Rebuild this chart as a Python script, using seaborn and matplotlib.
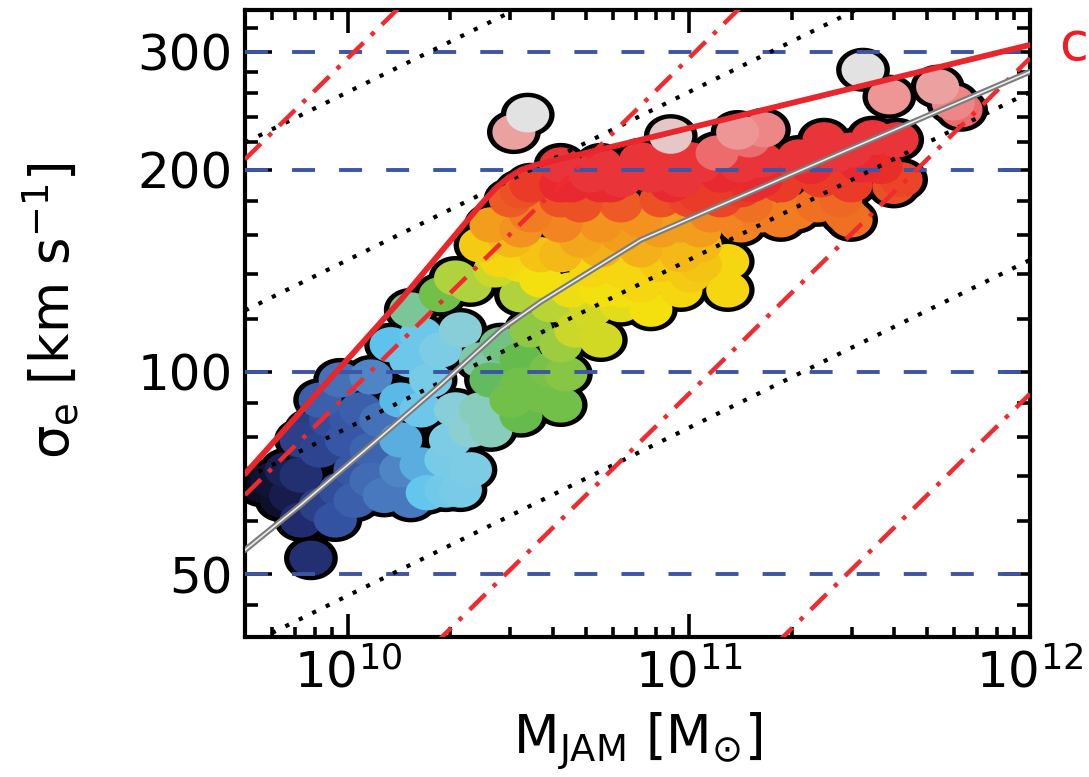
import numpy as np
import pandas as pd
import matplotlib
matplotlib.use("Agg")
import matplotlib.pyplot as plt
from matplotlib.path import Path
from matplotlib.colors import LinearSegmentedColormap
from matplotlib.ticker import FixedLocator, NullFormatter
import seaborn as sns

# ---------------------------------------------------------------------------
# Galaxies: JAM mass [1e10 Msun], effective velocity dispersion [km/s] and
# the smoothed colour index (0 = lowest, 1 = highest) used for the fill.
# ---------------------------------------------------------------------------
mass_1e10 = [
    # dark / navy
    0.56, 0.60, 0.64, 0.66, 0.68, 0.73, 0.78, 0.73, 0.83,
    # blue
    0.92, 0.95, 0.83, 0.89, 0.99, 1.09, 1.05, 1.17, 0.78, 0.95, 1.17, 1.25, 1.28, 1.43, 1.53,
    0.73, 0.83, 1.02, 1.05, 1.17,
    # light blue
    1.71, 1.43, 1.64, 1.43, 1.75, 1.53, 1.34, 1.87, 1.94, 2.14, 2.29, 2.45, 2.07, 1.64, 2.14,
    2.00, 2.29, 1.64, 1.94,
    # green
    2.63, 3.01, 3.68, 3.94, 3.22, 2.81, 2.45, 4.21, 3.44, 2.63, 3.22, 4.21, 3.22, 4.36,
    # yellow-green
    4.66, 5.52, 5.16, 3.94, 3.22, 1.53, 1.87, 2.29, 2.70, 2.07,
    # yellow
    3.22, 2.45, 3.68, 4.51, 5.52, 6.32, 7.23, 8.28, 10.1, 13.0, 13.0, 6.32, 7.74, 4.21, 5.52, 7.23, 10.8,
    2.81, 3.68, 5.16, 6.32, 9.48, 10.8, 9.48,
    # orange
    2.63, 3.01, 3.44, 4.21, 5.52, 7.23, 9.48, 11.6, 15.2, 18.6, 23.8, 27.9, 20.6, 28.9,
    3.22, 4.82, 6.32, 8.28, 10.8, 14.2, 16.3, 29.9,
    # red
    3.00, 3.22, 4.21, 5.16, 6.32, 7.74, 9.48, 12.4, 16.3, 4.82, 6.32, 8.28, 10.8, 14.2, 5.52,
    7.23, 10.1, 12.1, 22.8, 24.9, 29.9, 34.6, 40.8, 36.6, 41.9, 39.9, 21.0, 16.3,
    4.21, 5.52, 8.28, 10.8, 14.2, 3.44, 4.51, 5.91, 8.85, 15.2, 18.6, 4.21, 10.1, 12.4,
    24.4, 29.9, 31.9, 26.9,
    # pink / grey
    8.85, 13.9, 16.6, 15.0, 38.7, 53.6, 59.6, 62.8, 32.4, 3.37, 3.07,
]
sigma_e = [
    67.8, 69.0, 64.4, 71.5, 65.5, 60.2, 52.8, 70.2, 63.3,
    60.2, 66.7, 76.5, 84.8, 79.2, 87.8, 71.5, 76.5, 82.0, 97.3, 98.3, 84.8, 65.5, 71.5, 64.4,
    79.2, 90.8, 84.8, 64.4, 69.0,
    66.1, 79.2, 87.8, 90.8, 97.3, 104.2, 109.8, 107.8, 74.0, 66.7, 82.0, 87.8, 87.8, 113.6, 115.5,
    79.2, 71.5, 72.7, 66.7,
    97.3, 90.8, 92.4, 100.7, 104.2, 109.8, 104.2, 109.8, 115.5, 82.0, 86.1, 89.3, 95.7, 99.3,
    115.5, 111.6, 123.7, 125.9, 130.3, 123.7, 130.4, 134.8, 141.9, 138.0,
    144.5, 154.6, 137.1, 132.5, 132.5, 141.9, 134.8, 144.5, 139.5, 146.0, 132.5, 126.0, 124.0, 149.5, 152.0, 152.0, 154.6,
    146.9, 149.5, 141.9, 132.5, 132.5, 144.5, 149.5,
    165.6, 157.3, 171.4, 165.6, 165.6, 168.5, 165.6, 171.4, 177.4, 168.5, 177.4, 180.5, 173.2, 171.4,
    162.8, 157.3, 160.0, 162.8, 162.8, 165.6, 171.4, 168.5,
    180.5, 186.0, 190.0, 196.5, 193.3, 196.5, 193.3, 196.5, 193.3, 177.4, 177.4, 180.5, 183.6, 186.8, 190.0,
    207.0, 207.0, 211.8, 202.3, 221.7, 214.0, 223.3, 221.7, 202.3, 193.3, 189.0, 209.0, 207.0,
    203.4, 203.4, 203.4, 203.4, 203.4, 190.0, 190.0, 190.0, 190.0, 190.0, 190.0, 180.5, 180.5, 180.5,
    193.3, 190.0, 203.4, 210.5,
    224.5, 227.7, 229.5, 221.7, 257.0, 266.0, 251.6, 245.8, 281.9, 241.6, 227.7,
]
colour_index = [
    0.00, 0.02, 0.01, 0.06, 0.05, 0.09, 0.10, 0.10, 0.14,
    0.18, 0.17, 0.15, 0.17, 0.19, 0.20, 0.19, 0.21, 0.13, 0.23, 0.26, 0.23, 0.24, 0.26, 0.24,
    0.14, 0.20, 0.19, 0.20, 0.22,
    0.33, 0.30, 0.34, 0.31, 0.36, 0.34, 0.32, 0.37, 0.36, 0.36, 0.42, 0.44, 0.40, 0.34, 0.40,
    0.37, 0.37, 0.30, 0.35,
    0.49, 0.52, 0.52, 0.53, 0.51, 0.47, 0.45, 0.56, 0.55, 0.44, 0.51, 0.52, 0.52, 0.54,
    0.61, 0.62, 0.62, 0.59, 0.58, 0.46, 0.52, 0.58, 0.61, 0.58,
    0.65, 0.68, 0.66, 0.65, 0.66, 0.67, 0.67, 0.68, 0.68, 0.67, 0.67, 0.64, 0.66, 0.70, 0.71, 0.71, 0.70,
    0.67, 0.69, 0.67, 0.66, 0.67, 0.69, 0.70,
    0.73, 0.70, 0.76, 0.75, 0.74, 0.74, 0.73, 0.75, 0.77, 0.76, 0.77, 0.78, 0.76, 0.77,
    0.74, 0.72, 0.73, 0.73, 0.73, 0.75, 0.76, 0.77,
    0.79, 0.80, 0.84, 0.85, 0.85, 0.85, 0.85, 0.84, 0.84, 0.80, 0.79, 0.80, 0.82, 0.82, 0.84,
    0.85, 0.85, 0.89, 0.84, 0.85, 0.85, 0.85, 0.85, 0.83, 0.81, 0.80, 0.85, 0.85,
    0.85, 0.85, 0.85, 0.85, 0.85, 0.82, 0.84, 0.84, 0.84, 0.83, 0.82, 0.80, 0.81, 0.81,
    0.82, 0.82, 0.84, 0.85,
    0.97, 0.92, 0.91, 0.89, 0.92, 0.93, 0.91, 0.89, 1.00, 1.00, 0.93,
]

# Zone of exclusion and LOESS mean relation (mass in 1e10 Msun, sigma in km/s)
zoe_mass_1e10 = [0.50, 1.43, 2.45, 2.72, 2.95, 3.22, 3.56, 7.23, 100.0]
zoe_sigma = [70.5, 128.0, 177.4, 188.0, 194.5, 200.0, 203.4, 221.7, 307.0]
mean_mass_1e10 = [0.50, 0.728, 1.19, 1.87, 2.81, 3.68, 4.82, 7.23, 27.9, 100.0]
mean_sigma = [54.3, 63.4, 78.4, 95.6, 115.5, 127.2, 138.5, 157.3, 212.0, 280.0]

# Reference levels
sigma_levels = [50, 100, 200, 300]
re_kpc = [0.1, 1, 10, 100]                 # constant effective radius
surface_density = [1e2, 1e3, 1e4, 1e5]     # constant Sigma_e [Msun/pc^2]
G_PC = 4.301e-3                            # pc (km/s)^2 / Msun

# Axis ticks
x_major = [1e10, 1e11, 1e12]
x_major_labels = [r"$10^{10}$", r"$10^{11}$", r"$10^{12}$"]
y_major = [50, 100, 200, 300]
y_major_labels = ["50", "100", "200", "300"]
y_minor = [45, 60, 70, 80, 90, 120, 140, 160, 180, 220, 240, 260, 280, 325]

# Colour scale for the smoothed index
cmap_positions = [0.00, 0.08, 0.18, 0.26, 0.32, 0.37, 0.43, 0.50, 0.58, 0.66, 0.74, 0.84, 0.92, 1.00]
cmap_colours = ["#0c0c24", "#1e2868", "#3452a2", "#4f86c6", "#5ec4ee", "#7ecce6", "#8fd0cc",
                "#5bb84e", "#b0d23c", "#f5e00e", "#f3931f", "#e8252b", "#ee9494", "#e2e2e2"]
cmap = LinearSegmentedColormap.from_list("loess", list(zip(cmap_positions, cmap_colours)))

sns.set_theme(style="ticks")
plt.rcParams["font.family"] = ["DejaVu Sans"]
plt.rcParams["mathtext.fontset"] = "dejavusans"
plt.rcParams["text.color"] = "black"
plt.rcParams["axes.labelcolor"] = "black"

fig = plt.figure(figsize=(10.89, 7.77), dpi=100)
ax = fig.add_axes([0.225, 0.1802, 0.7208, 0.8069])
ax.set_xscale("log")
ax.set_yscale("log")

df = pd.DataFrame({
    "mass": np.array(mass_1e10) * 1e10,
    "sigma": sigma_e,
    "colour": colour_index,
}).sort_values("colour", kind="stable")

# slightly elliptical disc marker
theta = np.linspace(0, 2 * np.pi, 80)
disc = Path(np.column_stack([np.cos(theta), 0.82 * np.sin(theta)]), closed=True)

# black halo underneath, coloured discs on top -> outlined blobs
sns.scatterplot(data=df, x="mass", y="sigma", color="black", s=1500, marker=disc,
                linewidth=0, edgecolor="none", legend=False, ax=ax, zorder=1)
sns.scatterplot(data=df, x="mass", y="sigma", hue="colour", palette=cmap, hue_norm=(0, 1),
                s=960, marker=disc, linewidth=0, edgecolor="none", legend=False, ax=ax, zorder=1.2)

xlim = (5e9, 1e12)
ylim = (40.3, 346)
m_line = np.array(xlim)

# horizontal reference levels
for s in sigma_levels:
    ax.plot(m_line, [s, s], color="#3c55a5", lw=2.8, dashes=(5.9, 6.2), zorder=3)

# lines of constant Sigma_e (sigma ~ M^1/4)
for sd in surface_density:
    sig = np.sqrt(G_PC / 5) * (2 * np.pi * sd * m_line) ** 0.25
    ax.plot(m_line, sig, color="black", lw=3.0, dashes=(1, 2.6), zorder=3)

# lines of constant R_e (sigma ~ M^1/2)
for re in re_kpc:
    sig = np.sqrt(G_PC * m_line / (5 * re * 1e3))
    ax.plot(m_line, sig, color="#f02a2e", lw=3.2, dashes=(5.0, 2.4, 1.0, 2.4), zorder=3)

# zone of exclusion
sns.lineplot(x=np.array(zoe_mass_1e10) * 1e10, y=zoe_sigma, color="#e8262b", lw=4.2,
             sort=False, estimator=None, ax=ax, zorder=4)
# mean relation: grey line with a thin light core
mm = np.array(mean_mass_1e10) * 1e10
sns.lineplot(x=mm, y=mean_sigma, color="#7c7c7c", lw=4.2, sort=False, estimator=None, ax=ax, zorder=4)
sns.lineplot(x=mm, y=mean_sigma, color="#eeeeee", lw=1.2, sort=False, estimator=None, ax=ax, zorder=4.1)

ax.set_xlim(*xlim)
ax.set_ylim(*ylim)

ax.xaxis.set_major_locator(FixedLocator(x_major))
ax.set_xticklabels(x_major_labels)
ax.xaxis.set_minor_locator(FixedLocator([k * 10 ** e for e in (9, 10, 11) for k in range(2, 10)]))
ax.xaxis.set_minor_formatter(NullFormatter())
ax.yaxis.set_major_locator(FixedLocator(y_major))
ax.set_yticklabels(y_major_labels)
ax.yaxis.set_minor_locator(FixedLocator(y_minor))
ax.yaxis.set_minor_formatter(NullFormatter())

ax.tick_params(axis="both", which="both", direction="in", top=True, right=True,
               width=2.6, colors="black", labelsize=36)
ax.tick_params(axis="x", which="major", length=16.5, pad=8)
ax.tick_params(axis="x", which="minor", length=7.5)
ax.tick_params(axis="y", which="major", length=19.5, pad=9)
ax.tick_params(axis="y", which="minor", length=9.5)
for sp in ax.spines.values():
    sp.set_linewidth(3.0)
    sp.set_color("black")
    sp.set_visible(True)

ax.set_xlabel(r"M$_{\rm JAM}$ [M$_{\odot}$]", fontsize=38, color="black")
ax.set_ylabel("σ" + r"$_{\rm e}$ [km s$^{-1}$]", fontsize=38, color="black")
ax.xaxis.set_label_coords(0.5, -0.118)
ax.yaxis.set_label_coords(-0.21, 0.52)

fig.text(1088 / 1089, 1 - 45 / 777, "c", color="#ee1c24", fontsize=38, ha="right", va="center")

fig.savefig("out.png", dpi=100)
